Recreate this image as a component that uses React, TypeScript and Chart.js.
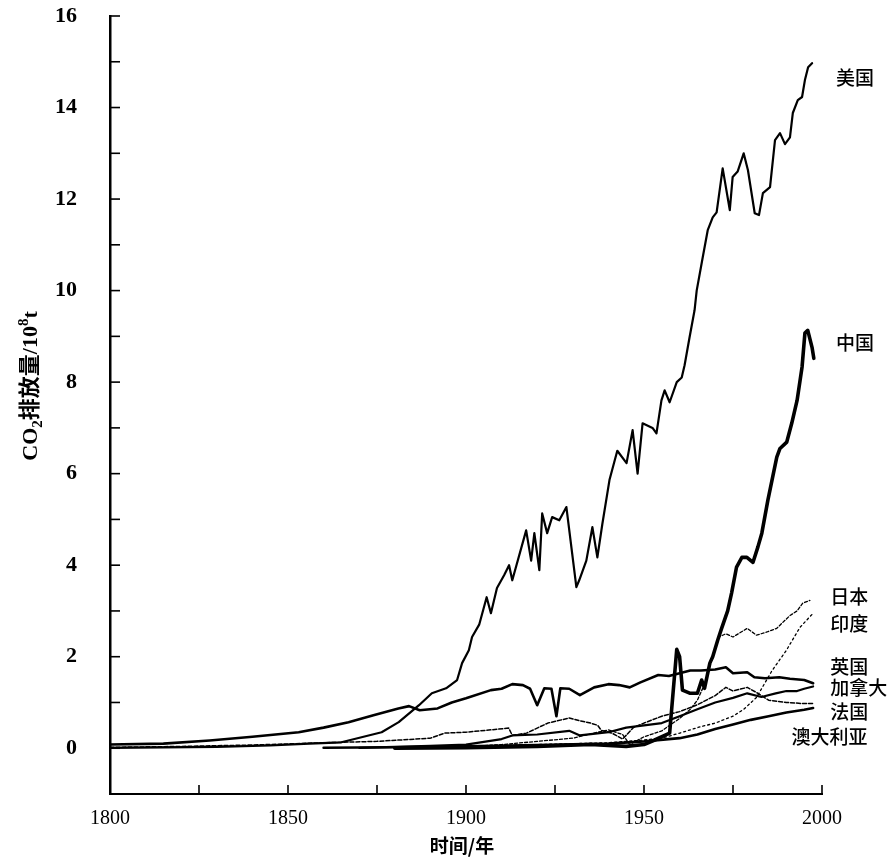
import React, { useEffect, useRef } from 'react';
import { Chart, registerables } from 'chart.js';

Chart.register(...registerables);

// ---- Data, unit: 10^8 t ----
const usaYears = [1800, 1815, 1830, 1845, 1856, 1865, 1876.3, 1881.1, 1886.8, 1890.4, 1894.4, 1897.5, 1898.9, 1900.8, 1901.7, 1903.7, 1905.8, 1907, 1908.7, 1910.7, 1912.1, 1913, 1916.9, 1918.3, 1919.2, 1920.6, 1921.4, 1922.8, 1924.2, 1926.2, 1928.2, 1931, 1931.8, 1933.8, 1935.5, 1936.9, 1938.3, 1940.3, 1942.5, 1945.1, 1946.8, 1948.2, 1949.6, 1952.4, 1953.5, 1954.9, 1955.8, 1957.2, 1959.2, 1960.6, 1961.4, 1962.8, 1964.2, 1964.8, 1966.5, 1967.9, 1969.3, 1970.4, 1972.1, 1974.1, 1974.9, 1976.3, 1978, 1979.2, 1981.1, 1982.3, 1983.4, 1985.4, 1986.8, 1988.2, 1989.6, 1991, 1991.8, 1993.2, 1994.4, 1995.2, 1996.1, 1997.2];
const usaValues = [0.01, 0.02, 0.03, 0.06, 0.1, 0.13, 0.35, 0.57, 0.94, 1.2, 1.31, 1.49, 1.86, 2.14, 2.43, 2.7, 3.3, 2.95, 3.5, 3.78, 4.0, 3.67, 4.76, 4.1, 4.7, 3.89, 5.13, 4.7, 5.05, 4.98, 5.27, 3.52, 3.67, 4.1, 4.83, 4.17, 4.9, 5.86, 6.5, 6.23, 6.95, 6.0, 7.1, 7.0, 6.88, 7.6, 7.82, 7.56, 8.0, 8.1, 8.37, 8.98, 9.57, 10.0, 10.73, 11.32, 11.6, 11.71, 12.67, 11.76, 12.48, 12.6, 13.0, 12.63, 11.69, 11.65, 12.13, 12.26, 13.29, 13.44, 13.2, 13.35, 13.88, 14.16, 14.23, 14.6, 14.88, 14.97];

const chinaYears = [1880, 1900, 1920, 1935, 1945, 1950, 1953, 1957.2, 1959.2, 1960, 1960.8, 1963, 1965, 1966.2, 1967, 1968.5, 1969.3, 1970.7, 1971.8, 1973.5, 1974.6, 1976, 1977.5, 1978.9, 1980.6, 1982, 1983.1, 1984.8, 1987.3, 1988.2, 1990.1, 1991.5, 1993, 1994.4, 1995.2, 1996, 1997.2, 1997.7];
const chinaValues = [0, 0.01, 0.04, 0.08, 0.04, 0.08, 0.18, 0.33, 2.16, 2.0, 1.27, 1.2, 1.2, 1.49, 1.31, 1.86, 2.0, 2.36, 2.62, 3.0, 3.39, 3.96, 4.17, 4.17, 4.06, 4.4, 4.7, 5.42, 6.36, 6.55, 6.69, 7.1, 7.6, 8.33, 9.07, 9.13, 8.76, 8.52];

const japanYears = [1880, 1900, 1910, 1920, 1930, 1937, 1940, 1944, 1946, 1950, 1955, 1960, 1963, 1965, 1967, 1969.3, 1971, 1973, 1975, 1979, 1981.6, 1984.5, 1987.3, 1989, 1991, 1993, 1994.6, 1996.6];
const japanValues = [0, 0.03, 0.08, 0.15, 0.22, 0.35, 0.4, 0.3, 0.08, 0.25, 0.38, 0.65, 0.85, 1.05, 1.4, 2.0, 2.43, 2.5, 2.43, 2.62, 2.47, 2.54, 2.62, 2.75, 2.9, 3.0, 3.17, 3.23];

const indiaYears = [1880, 1900, 1920, 1940, 1950, 1955, 1960, 1965, 1970, 1975, 1978, 1981.6, 1986, 1990, 1993.8, 1997.5];
const indiaValues = [0.01, 0.05, 0.08, 0.12, 0.18, 0.22, 0.33, 0.45, 0.55, 0.7, 0.85, 1.11, 1.7, 2.14, 2.64, 2.95];

const ukYears = [1800, 1815, 1828, 1840, 1853, 1860, 1867, 1874, 1881, 1884, 1887, 1892, 1896, 1900, 1907, 1910, 1913, 1916, 1918, 1920, 1922, 1924, 1925.4, 1926.5, 1929, 1932, 1936, 1940, 1943, 1946, 1949, 1954, 1957, 1960, 1963, 1966, 1970, 1973, 1975, 1979, 1981, 1984, 1988, 1991, 1995, 1997.5];
const ukValues = [0.08, 0.1, 0.17, 0.25, 0.35, 0.45, 0.57, 0.72, 0.87, 0.92, 0.83, 0.87, 1.0, 1.09, 1.27, 1.3, 1.4, 1.38, 1.3, 0.94, 1.31, 1.3, 0.7, 1.31, 1.3, 1.16, 1.33, 1.4, 1.38, 1.33, 1.44, 1.6, 1.58, 1.64, 1.7, 1.7, 1.72, 1.77, 1.64, 1.66, 1.55, 1.53, 1.55, 1.52, 1.49, 1.42];

const canadaYears = [1870, 1890, 1900, 1910, 1913, 1920, 1929, 1932, 1940, 1945, 1950, 1955, 1960, 1965, 1970, 1975, 1979, 1983, 1987, 1990, 1993, 1995, 1997.5];
const canadaValues = [0.01, 0.05, 0.08, 0.2, 0.28, 0.3, 0.38, 0.28, 0.35, 0.45, 0.5, 0.55, 0.7, 0.85, 1.0, 1.1, 1.2, 1.12, 1.2, 1.25, 1.25, 1.3, 1.35];

const franceYears = [1800, 1820, 1840, 1860, 1875, 1890, 1894, 1900, 1912, 1913, 1917, 1923, 1929, 1932, 1935, 1937, 1938, 1941, 1944, 1947, 1950, 1955, 1960, 1965, 1970, 1973, 1975, 1979, 1982, 1985, 1990, 1994, 1997.5];
const franceValues = [0.02, 0.04, 0.07, 0.12, 0.15, 0.22, 0.33, 0.35, 0.44, 0.28, 0.33, 0.55, 0.66, 0.6, 0.55, 0.5, 0.39, 0.33, 0.2, 0.45, 0.55, 0.7, 0.8, 0.95, 1.15, 1.33, 1.25, 1.33, 1.2, 1.05, 1.0, 0.98, 0.98];

const australiaYears = [1860, 1880, 1900, 1920, 1940, 1950, 1960, 1965, 1970, 1975, 1980, 1985, 1990, 1995, 1997.5];
const australiaValues = [0.01, 0.02, 0.04, 0.07, 0.1, 0.15, 0.22, 0.3, 0.42, 0.52, 0.62, 0.7, 0.78, 0.84, 0.88];

// Series name labels at the right side (anchored in data units)
const seriesNames = ['美国', '中国', '日本', '印度', '英国', '加拿大', '法国', '澳大利亚'];
const labelYears = [2003.9, 2003.9, 2002.3, 2002.3, 2002.3, 2002.3, 2002.3, 2012.8];
const labelValues = [14.66, 8.87, 3.32, 2.73, 1.77, 1.33, 0.79, 0.24];
const labelAligns = ['left', 'left', 'left', 'left', 'left', 'left', 'left', 'right'];

const xTitle = '时间/年';
const yTitleParts = ['CO', '2', '排放量/10', '8', 't'];

const LATIN = "'Liberation Serif', 'Noto Sans CJK SC', serif";
const CJK = "'Noto Sans CJK SC', 'Liberation Serif', sans-serif";

function pts(xs: number[], ys: number[]) {
  return xs.map((x, i) => ({ x, y: ys[i] }));
}

const tickMarks = {
  id: 'tickMarks',
  afterDraw(chart: any) {
    const { ctx, chartArea, scales } = chart;
    const x = scales.x;
    const y = scales.y;
    ctx.save();
    ctx.strokeStyle = '#000';
    ctx.lineWidth = 1.6;
    y.ticks.forEach((t: any) => {
      const py = y.getPixelForValue(t.value);
      ctx.beginPath();
      ctx.moveTo(chartArea.left, py);
      ctx.lineTo(chartArea.left + 10, py);
      ctx.stroke();
    });
    x.ticks.forEach((t: any) => {
      const px = x.getPixelForValue(t.value);
      ctx.beginPath();
      ctx.moveTo(px, chartArea.bottom);
      ctx.lineTo(px, chartArea.bottom - 9);
      ctx.stroke();
    });
    ctx.restore();
  },
};

const textLayer = {
  id: 'textLayer',
  afterDraw(chart: any) {
    const { ctx, chartArea, scales } = chart;
    const x = scales.x;
    const y = scales.y;
    ctx.save();
    ctx.fillStyle = '#000';
    // series labels
    ctx.font = `500 19px ${CJK}`;
    ctx.textBaseline = 'middle';
    seriesNames.forEach((name, i) => {
      ctx.textAlign = labelAligns[i];
      ctx.fillText(name, x.getPixelForValue(labelYears[i]), y.getPixelForValue(labelValues[i]));
    });
    // x title
    ctx.font = `bold 19px ${CJK}`;
    ctx.textAlign = 'center';
    ctx.fillText(xTitle, (chartArea.left + chartArea.right) / 2 - 4, chartArea.bottom + 52);
    // y title (rotated, with sub/superscript)
    const big = `bold 22px ${LATIN}`;
    const small = `bold 15px ${LATIN}`;
    const fonts = [big, small, big, small, big];
    const shifts = [0, 5, 0, -9, 0];
    ctx.textAlign = 'left';
    ctx.textBaseline = 'alphabetic';
    const widths = yTitleParts.map((p, i) => {
      ctx.font = fonts[i];
      return ctx.measureText(p).width;
    });
    const total = widths.reduce((a, b) => a + b, 0);
    ctx.translate(37, chartArea.top + 370);
    ctx.rotate(-Math.PI / 2);
    let cx = -total / 2;
    yTitleParts.forEach((p, i) => {
      ctx.font = fonts[i];
      ctx.fillText(p, cx, shifts[i]);
      cx += widths[i];
    });
    ctx.restore();
  },
};

export default function App() {
  const ref = useRef<HTMLCanvasElement | null>(null);

  useEffect(() => {
    if (!ref.current) return;
    const mk = (label: string, xs: number[], ys: number[], width: number, dash: number[] = []) => ({
      label,
      data: pts(xs, ys),
      borderColor: '#000',
      backgroundColor: '#000',
      borderWidth: width,
      borderDash: dash,
      pointRadius: 0,
      tension: 0,
      fill: false,
      borderJoinStyle: 'round',
      borderCapStyle: 'round',
    });
    const chart = new Chart(ref.current, {
      type: 'line',
      data: {
        datasets: [
          mk('美国', usaYears, usaValues, 2.2),
          mk('中国', chinaYears, chinaValues, 3.6),
          mk('日本', japanYears, japanValues, 1.3, [3, 2]),
          mk('印度', indiaYears, indiaValues, 1.3, [2, 3]),
          mk('英国', ukYears, ukValues, 2.6),
          mk('加拿大', canadaYears, canadaValues, 2.2),
          mk('法国', franceYears, franceValues, 1.5, [4, 2]),
          mk('澳大利亚', australiaYears, australiaValues, 2.6),
        ] as any,
      },
      options: {
        animation: false,
        responsive: false,
        maintainAspectRatio: false,
        layout: { padding: { top: 16, right: 72, left: 0, bottom: 0 } },
        plugins: {
          legend: { display: false },
          tooltip: { enabled: false },
          title: { display: false },
        },
        scales: {
          x: {
            type: 'linear',
            min: 1800,
            max: 2000,
            grid: { display: false, drawTicks: false },
            border: { display: true, color: '#000', width: 2 },
            ticks: {
              stepSize: 25,
              autoSkip: false,
              maxRotation: 0,
              padding: 13,
              color: '#000',
              font: { family: LATIN, size: 20 },
              callback: (v: any) => (Number(v) % 50 === 0 ? String(v) : ''),
            },
            afterFit: (s: any) => {
              s.height = 69;
              s.paddingLeft = 0;
              s.paddingRight = 0;
            },
          },
          y: {
            type: 'linear',
            min: -1,
            max: 16,
            grid: { display: false, drawTicks: false },
            border: { display: true, color: '#000', width: 2.5 },
            ticks: {
              stepSize: 1,
              autoSkip: false,
              padding: 33,
              color: '#000',
              font: { family: LATIN, size: 22, weight: 'bold' },
              callback: (v: any) => (Number(v) >= 0 && Number(v) % 2 === 0 ? String(v) : ''),
            },
            afterFit: (s: any) => {
              s.width = 110;
              s.paddingTop = 0;
              s.paddingBottom = 0;
            },
          },
        },
      } as any,
      plugins: [tickMarks, textLayer],
    });
    return () => chart.destroy();
  }, []);

  return (
    <div style={{ position: 'absolute', left: 0, top: 0, width: 894, height: 863, background: '#fff' }}>
      <canvas ref={ref} width={894} height={863} style={{ display: 'block', width: 894, height: 863 }} />
    </div>
  );
}
